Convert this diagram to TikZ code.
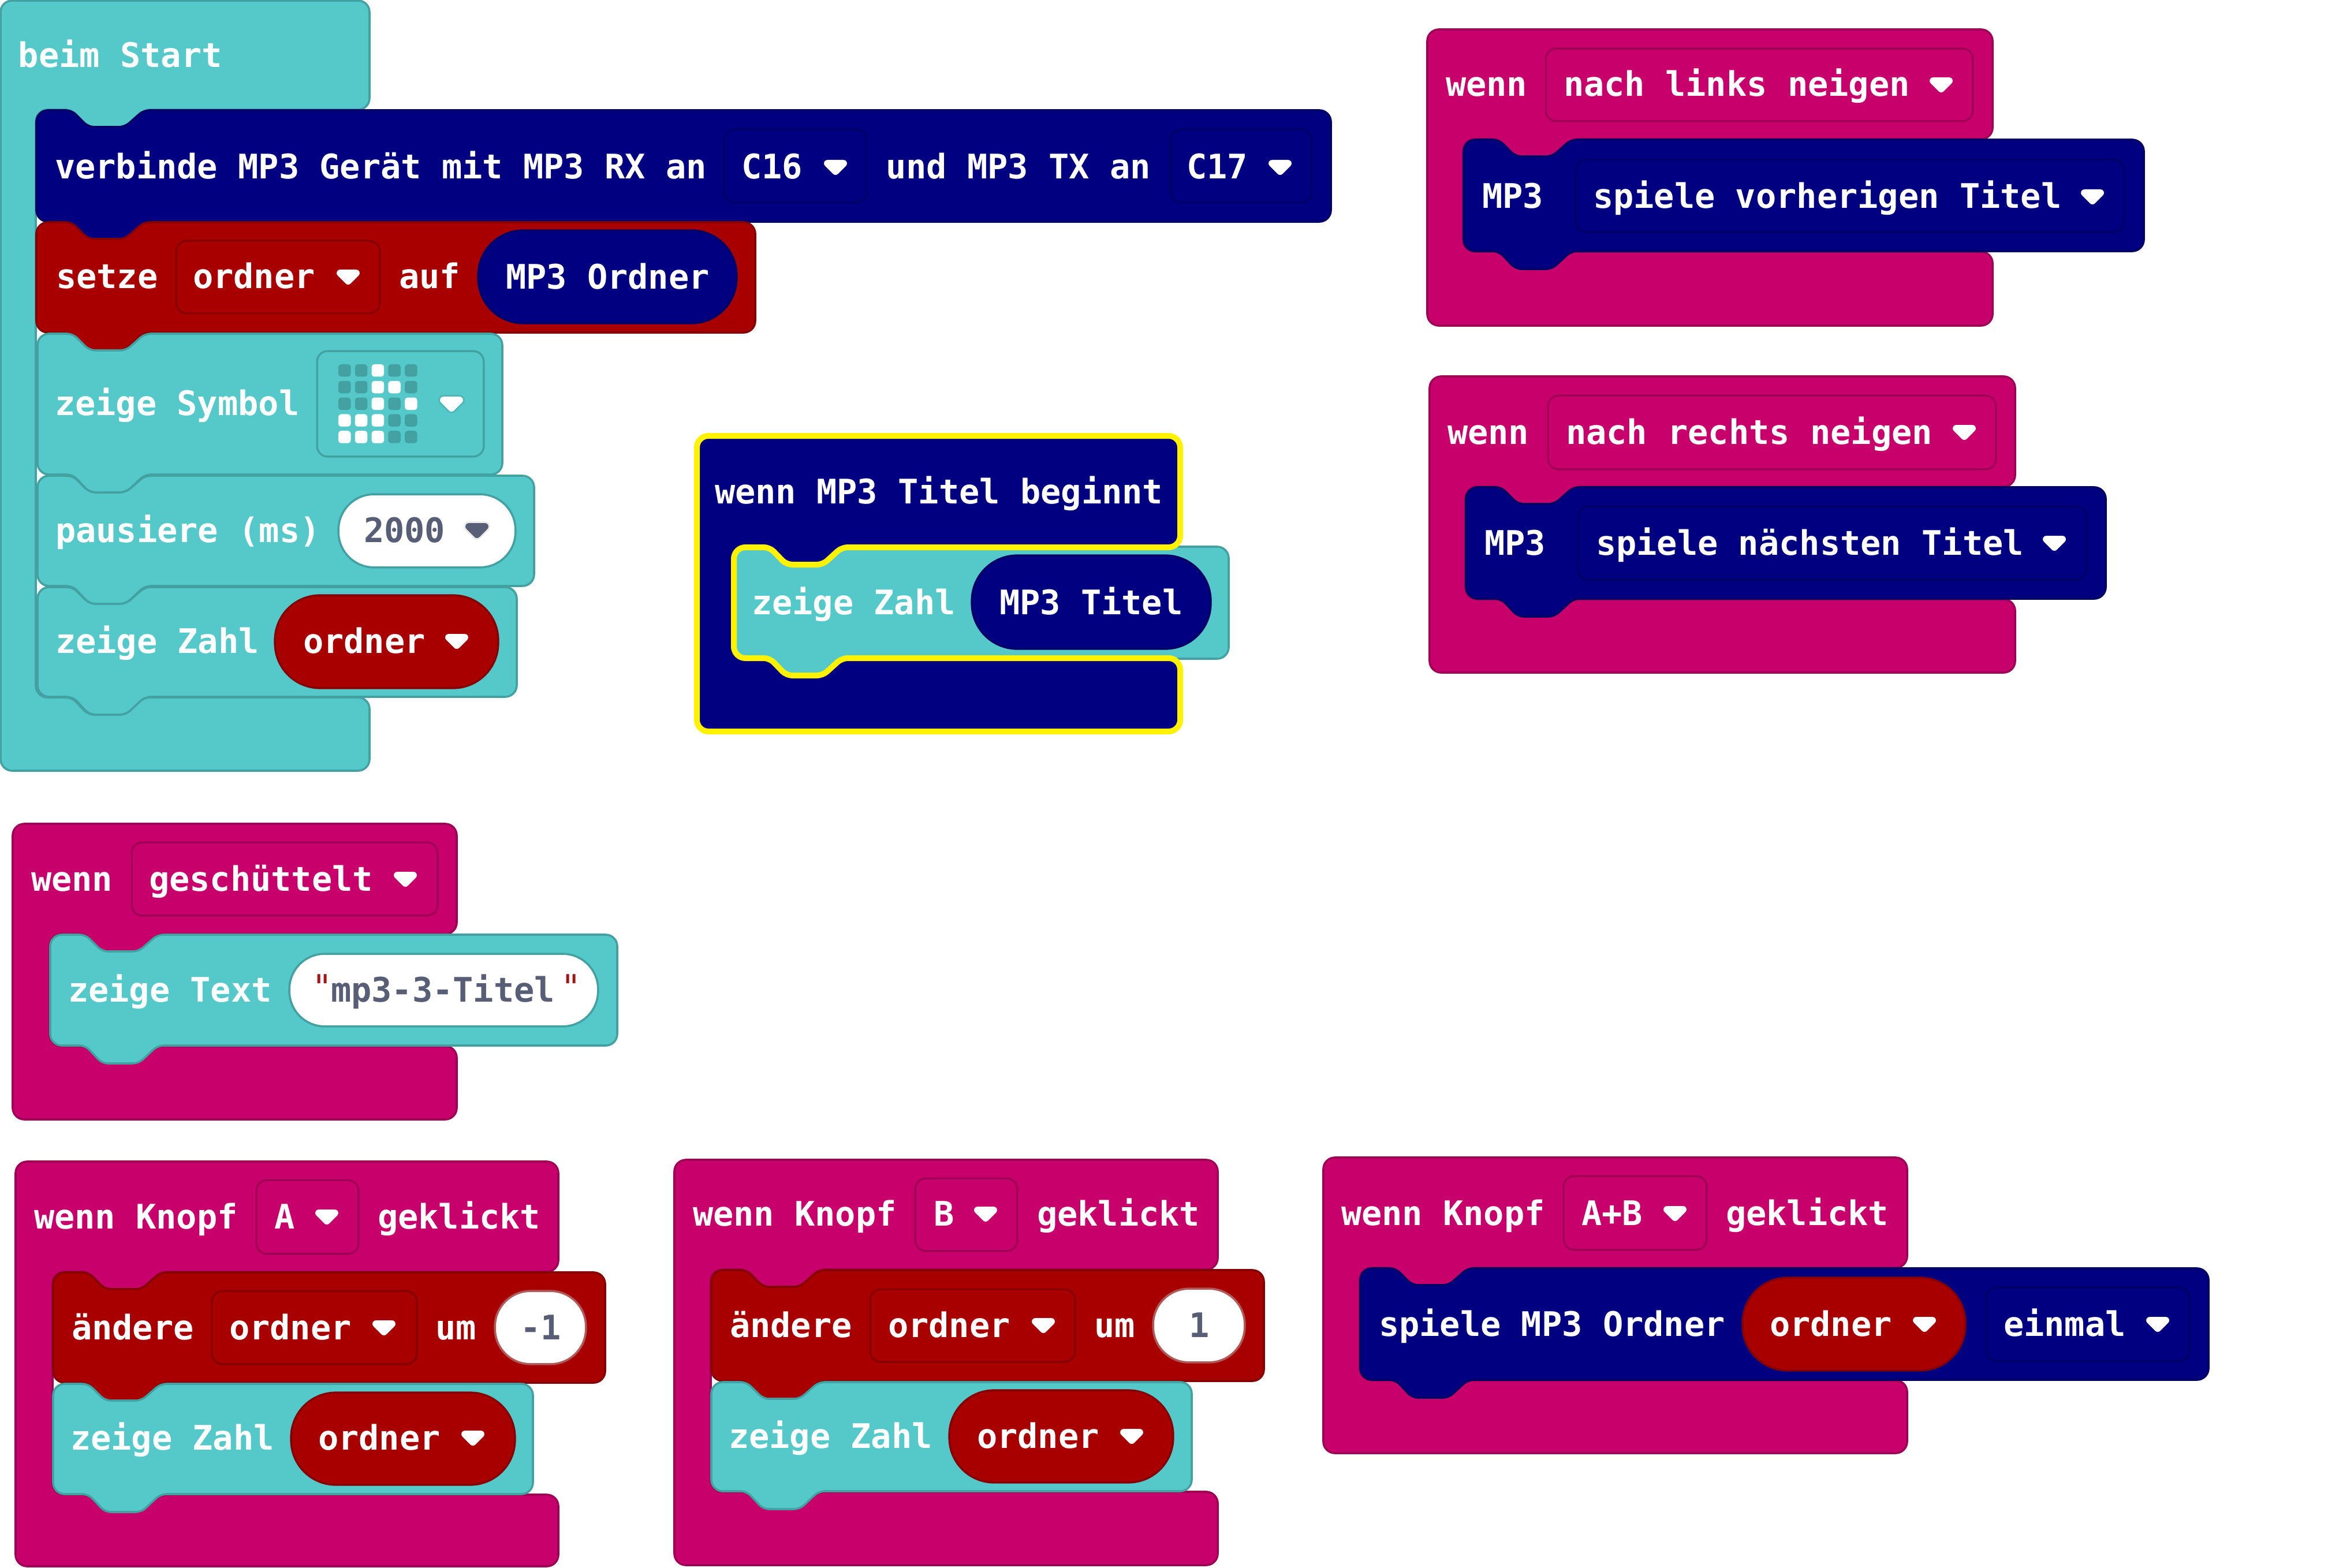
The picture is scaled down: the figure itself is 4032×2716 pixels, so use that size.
\documentclass[tikz,border=0pt]{standalone}
\usepackage{fontspec}
\newfontfamily\blkfont{DejaVu Sans Mono}
\definecolor{teal1}{HTML}{55C9C9}
\definecolor{teal2}{HTML}{43A1A1}
\definecolor{navy1}{HTML}{000080}
\definecolor{navy2}{HTML}{000066}
\definecolor{red1}{HTML}{A80000}
\definecolor{red2}{HTML}{860000}
\definecolor{mag1}{HTML}{C7006B}
\definecolor{mag2}{HTML}{9F0056}
\definecolor{yel}{HTML}{FFF200}
\definecolor{gr}{HTML}{575E75}
\definecolor{qt}{HTML}{A31515}
\tikzset{
  x=0.25pt,y=-0.25pt,
  tealb/.style={fill=teal1,draw=teal2,line width=0.9pt},
  navyb/.style={fill=navy1,draw=navy2,line width=0.9pt},
  redb/.style={fill=red1,draw=red2,line width=0.9pt},
  magb/.style={fill=mag1,draw=mag2,line width=0.9pt},
  yelb/.style={fill=navy1,draw=yel,line width=2.5pt},
  fieldline/.style={line width=0.85pt,rounded corners=4.5pt},
  lbl/.style={anchor=base west,inner sep=0pt,outer sep=0pt,font=\blkfont\bfseries\fontsize{14.65pt}{16pt}\selectfont,text=white},
  ledon/.style={fill=white,rounded corners=1.2pt},
  ledoff/.style={fill=teal2,rounded corners=1.2pt},
}
\def\ins{1}
% statement block: x y x2 y2 style
\newcommand{\stm}[5]{%
  \pgfmathsetmacro{\xa}{#1+\ins}\pgfmathsetmacro{\ya}{#2+\ins}\pgfmathsetmacro{\xb}{#3-\ins}\pgfmathsetmacro{\yb}{#4-\ins}%
  \draw[#5,rounded corners=5pt] (\xa,{\ya+40}) -- (\xa,\ya) [rounded corners=2.5pt] -- ({#1+62},\ya) -- ({#1+91},{#2+30}) -- ({#1+154},{#2+30}) -- ({#1+187},\ya) [rounded corners=5pt] -- (\xb,\ya) -- (\xb,\yb) [rounded corners=2.5pt] -- ({#1+187},\yb) -- ({#1+154},{#4+30}) -- ({#1+91},{#4+30}) -- ({#1+62},\yb) [rounded corners=5pt] -- (\xa,\yb) -- cycle;}
% hat block: x y x2 sx stmtTop stmtBottom y2 style
\newcommand{\hatb}[8]{%
  \pgfmathsetmacro{\xa}{#1+\ins}\pgfmathsetmacro{\ya}{#2+\ins}\pgfmathsetmacro{\xb}{#3-\ins}\pgfmathsetmacro{\yb}{#7-\ins}%
  \draw[#8,rounded corners=5pt] (\xa,{\ya+40}) -- (\xa,\ya) -- (\xb,\ya) -- (\xb,#5) [rounded corners=2.5pt] -- ({#4+187},#5) -- ({#4+154},{#5+30}) -- ({#4+91},{#5+30}) -- ({#4+62},#5) [rounded corners=5pt] -- (#4,#5) -- (#4,#6) [rounded corners=2.5pt] -- ({#4+62},#6) -- ({#4+91},{#6+30}) -- ({#4+154},{#6+30}) -- ({#4+187},#6) [rounded corners=5pt] -- (\xb,#6) -- (\xb,\yb) -- (\xa,\yb) -- cycle;}
\newcommand{\fld}[5]{\draw[fieldline,draw=#5] ({#1+1.2},{#2+1.2}) rectangle ({#3-1.2},{#4-1.2});}
\newcommand{\blkpill}[6]{%
  \pgfmathsetmacro{\rr}{(#4-#2-2.4)/2*0.25*0.97}%
  \draw[line width=0.9pt,fill=#5,draw=#6,rounded corners=\rr pt] ({#1+1.2},{#2+1.2}) rectangle ({#3-1.2},{#4-1.2});}
\newcounter{lblno}
\newcommand{\tx}[3]{\stepcounter{lblno}\node[lbl] (t\arabic{lblno}) at (#1,#2) {#3};}
\newcommand{\txc}[4]{\stepcounter{lblno}\node[lbl,text=#4] (t\arabic{lblno}) at (#1,#2) {#3};}
\newcommand{\dd}[2]{\fill[white,draw=white,line width=3pt,line join=round] ({#1-14},{#2-27}) -- ({#1+14},{#2-27}) -- (#1,{#2-13}) -- cycle;}
\newcommand{\ddh}[4]{%
  \draw[#4,fill=#4,line width=4.4pt,line join=round] ({#1-14},{#2-27}) -- ({#1+14},{#2-27}) -- (#1,{#2-13}) -- cycle;
  \draw[#3,fill=#3,line width=3pt,line join=round] ({#1-14},{#2-27}) -- ({#1+14},{#2-27}) -- (#1,{#2-13}) -- cycle;}
\newcommand{\led}[3]{\fill[#3] ({586+28.8*#1},{631+28.8*#2}) rectangle ++(21.5,21.5);}
\begin{document}
\begin{tikzpicture}
\useasboundingbox (0,0) rectangle (4032,2716);
\fill[white] (0,0) rectangle (4032,2716);
% ---------- beim Start ----------
\hatb{0}{0}{641}{62}{190}{1208}{1336}{tealb}
\tx{32}{117}{beim Start}
\stm{62}{190}{2306}{385}{navyb}
\tx{95}{310}{verbinde MP3 Gerät mit MP3 RX an}
\fld{1253}{223}{1502}{352}{navy2}
\tx{1284}{310}{C16}\dd{1447}{310}
\tx{1534}{310}{und MP3 TX an}
\fld{2026}{223}{2273}{352}{navy2}
\tx{2055}{310}{C17}\dd{2217}{310}
\stm{62}{384}{1309}{577}{redb}
\tx{97}{500}{setze}
\fld{304}{416}{659}{544}{red2}
\tx{334}{500}{ordner}\dd{603}{500}
\tx{691}{500}{auf}
\blkpill{827}{398}{1277}{561}{navy1}{navy2}
\tx{876}{501}{MP3 Ordner}
\stm{64}{577}{871}{823}{tealb}
\tx{95}{719}{zeige Symbol}
\fld{548}{607}{839}{792}{teal2}
\led{0}{0}{ledoff}\led{1}{0}{ledoff}\led{2}{0}{ledon}\led{3}{0}{ledoff}\led{4}{0}{ledoff}
\led{0}{1}{ledoff}\led{1}{1}{ledoff}\led{2}{1}{ledon}\led{3}{1}{ledon}\led{4}{1}{ledoff}
\led{0}{2}{ledoff}\led{1}{2}{ledoff}\led{2}{2}{ledon}\led{3}{2}{ledoff}\led{4}{2}{ledon}
\led{0}{3}{ledon}\led{1}{3}{ledon}\led{2}{3}{ledon}\led{3}{3}{ledoff}\led{4}{3}{ledoff}
\led{0}{4}{ledon}\led{1}{4}{ledon}\led{2}{4}{ledon}\led{3}{4}{ledoff}\led{4}{4}{ledoff}
\ddh{782}{720}{white}{teal2!45!teal1}
\stm{64}{823}{926}{1016}{tealb}
\tx{96}{939}{pausiere (ms)}
\blkpill{585}{855}{894}{984}{white}{teal2}
\txc{630}{939}{2000}{gr}\ddh{826}{939}{gr}{black!8}
\stm{64}{1016}{896}{1208}{tealb}
\tx{96}{1131}{zeige Zahl}
\blkpill{475}{1030}{864}{1193}{red1}{red2}
\tx{525}{1131}{ordner}\dd{791}{1131}
% ---------- wenn MP3 Titel beginnt ----------
\stm{1271}{946}{2129}{1142}{tealb}
\def\ins{0}
\hatb{1207}{755}{2044}{1271}{948}{1140}{1267}{yelb}
\def\ins{1}
\tx{1238}{872}{wenn MP3 Titel beginnt}
\tx{1302}{1064}{zeige Zahl}
\blkpill{1682}{961}{2098}{1125}{navy1}{navy2}
\tx{1731}{1064}{MP3 Titel}
% ---------- nach links neigen ----------
\hatb{2471}{50}{3452}{2534}{241}{436}{565}{magb}
\tx{2504}{167}{wenn}
\fld{2676}{83}{3418}{211}{mag2}
\tx{2708}{167}{nach links neigen}\dd{3362}{167}
\stm{2534}{241}{3714}{436}{navyb}
\tx{2567}{361}{MP3}
\fld{2728}{275}{3680}{403}{navy2}
\tx{2759}{361}{spiele vorherigen Titel}\dd{3624}{361}
% ---------- nach rechts neigen ----------
\hatb{2475}{651}{3491}{2538}{843}{1038}{1166}{magb}
\tx{2507}{769}{wenn}
\fld{2680}{684}{3458}{814}{mag2}
\tx{2712}{769}{nach rechts neigen}\dd{3402}{769}
\stm{2538}{843}{3648}{1038}{navyb}
\tx{2571}{961}{MP3}
\fld{2732}{876}{3615}{1006}{navy2}
\tx{2764}{961}{spiele nächsten Titel}\dd{3558}{961}
% ---------- geschüttelt ----------
\hatb{21}{1426}{792}{86}{1618}{1812}{1940}{magb}
\tx{54}{1543}{wenn}
\fld{227}{1458}{759}{1587}{mag2}
\tx{258}{1543}{geschüttelt}\dd{702}{1543}
\stm{86}{1618}{1070}{1812}{tealb}
\tx{118}{1735}{zeige Text}
\blkpill{500}{1651}{1037}{1779}{white}{teal2}
\txc{540}{1730}{\mdseries "}{qt}
\txc{573}{1735}{mp3-3-Titel}{gr}
\txc{971}{1730}{\mdseries "}{qt}
% ---------- Knopf A ----------
\hatb{26}{2011}{968}{91}{2203}{2589}{2714}{magb}
\tx{59}{2128}{wenn Knopf}
\fld{443}{2043}{622}{2173}{mag2}
\tx{475}{2128}{A}\dd{566}{2128}
\tx{654}{2128}{geklickt}
\stm{91}{2203}{1049}{2396}{redb}
\tx{124}{2320}{ändere}
\fld{366}{2235}{723}{2364}{red2}
\tx{397}{2320}{ordner}\dd{665}{2320}
\tx{754}{2320}{um}
\blkpill{856}{2235}{1016}{2364}{white}{red2!65!white}
\txc{901}{2320}{-1}{gr}
\stm{91}{2396}{924}{2589}{tealb}
\tx{122}{2511}{zeige Zahl}
\blkpill{503}{2411}{893}{2573}{red1}{red2}
\tx{551}{2511}{ordner}\dd{819}{2511}
% ---------- Knopf B ----------
\hatb{1167}{2008}{2110}{1231}{2199}{2584}{2712}{magb}
\tx{1200}{2123}{wenn Knopf}
\fld{1584}{2040}{1763}{2168}{mag2}
\tx{1617}{2123}{B}\dd{1707}{2123}
\tx{1796}{2123}{geklickt}
\stm{1231}{2199}{2190}{2393}{redb}
\tx{1264}{2316}{ändere}
\fld{1506}{2232}{1863}{2360}{red2}
\tx{1538}{2316}{ordner}\dd{1807}{2316}
\tx{1895}{2316}{um}
\blkpill{1996}{2231}{2157}{2361}{white}{red2!65!white}
\txc{2059}{2316}{1}{gr}
\stm{1231}{2393}{2065}{2584}{tealb}
\tx{1262}{2508}{zeige Zahl}
\blkpill{1643}{2407}{2033}{2569}{red1}{red2}
\tx{1692}{2508}{ordner}\dd{1960}{2508}
% ---------- Knopf A+B ----------
\hatb{2291}{2004}{3304}{2355}{2196}{2391}{2518}{magb}
\tx{2323}{2122}{wenn Knopf}
\fld{2707}{2036}{2957}{2166}{mag2}
\tx{2739}{2122}{A+B}\dd{2901}{2122}
\tx{2989}{2122}{geklickt}
\stm{2355}{2196}{3826}{2391}{navyb}
\tx{2388}{2314}{spiele MP3 Ordner}
\blkpill{3017}{2212}{3405}{2375}{red1}{red2}
\tx{3065}{2314}{ordner}\dd{3333}{2314}
\fld{3439}{2229}{3793}{2359}{navy2}
\tx{3470}{2314}{einmal}\dd{3737}{2314}
\end{tikzpicture}
\end{document}
